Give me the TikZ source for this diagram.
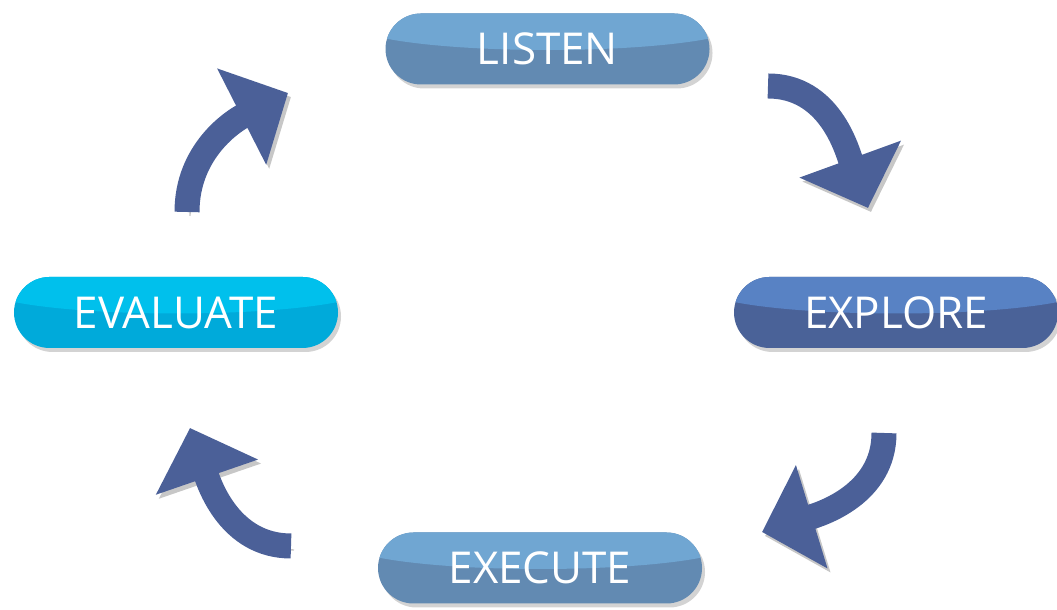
\documentclass[tikz,border=0pt]{standalone}
\usepackage{fontspec}
\setmainfont{Open Sans}
\usetikzlibrary{arrows.meta,shadows}

\definecolor{listentop}{RGB}{112,166,210}
\definecolor{listenbot}{RGB}{98,138,178}
\definecolor{exploretop}{RGB}{88,130,196}
\definecolor{explorebot}{RGB}{74,98,152}
\definecolor{evaltop}{RGB}{0,192,236}
\definecolor{evalbot}{RGB}{0,170,218}
\definecolor{arrowblue}{RGB}{75,96,152}

\tikzset{
  pill/.style 2 args={rectangle, rounded corners=0.355cm, minimum width=3.24cm,
    minimum height=0.71cm, fill=#2, text=white, font=\fontsize{12.5}{14}\selectfont,
    drop shadow={opacity=0.35, shadow xshift=0.03cm, shadow yshift=-0.04cm},
    path picture={\fill[#1] ([yshift=0.25cm]path picture bounding box.center)
      ellipse [x radius=1.95cm, y radius=0.26cm];}},
  cyclearrow/.style={line width=0.25cm, arrowblue,
    -{Triangle[length=0.52cm, width=1.05cm]},
    preaction={draw=black!22, transform canvas={xshift=0.03cm, yshift=-0.04cm}}}
}

\begin{document}
\begin{tikzpicture}
\useasboundingbox (0,0) rectangle (10.57,6.10);

% the four steps
\node[pill={listentop}{listenbot}] (listen) at (5.475,5.61) {LISTEN};
\node[pill={exploretop}{explorebot}] (explore) at (8.96,2.975) {EXPLORE};
\node[pill={listentop}{listenbot}] (execute) at (5.40,0.42) {EXECUTE};
\node[pill={evaltop}{evalbot}] (evaluate) at (1.76,2.975) {EVALUATE};

% arrow ends
\coordinate (listen-out) at (7.68,5.24);
\coordinate (explore-in) at (8.68,4.02);
\coordinate (explore-out) at (8.84,1.77);
\coordinate (execute-in) at (7.62,0.78);
\coordinate (execute-out) at (2.91,0.64);
\coordinate (evaluate-in) at (1.90,1.82);
\coordinate (evaluate-out) at (1.87,3.98);
\coordinate (listen-in) at (2.88,5.17);

\draw[cyclearrow] (listen-out) to[out=0, in=110] (explore-in);
\draw[cyclearrow] (explore-out) to[out=-90, in=17] (execute-in);
\draw[cyclearrow] (execute-out) to[out=180, in=-71] (evaluate-in);
\draw[cyclearrow] (evaluate-out) to[out=90, in=207] (listen-in);
\end{tikzpicture}
\end{document}
